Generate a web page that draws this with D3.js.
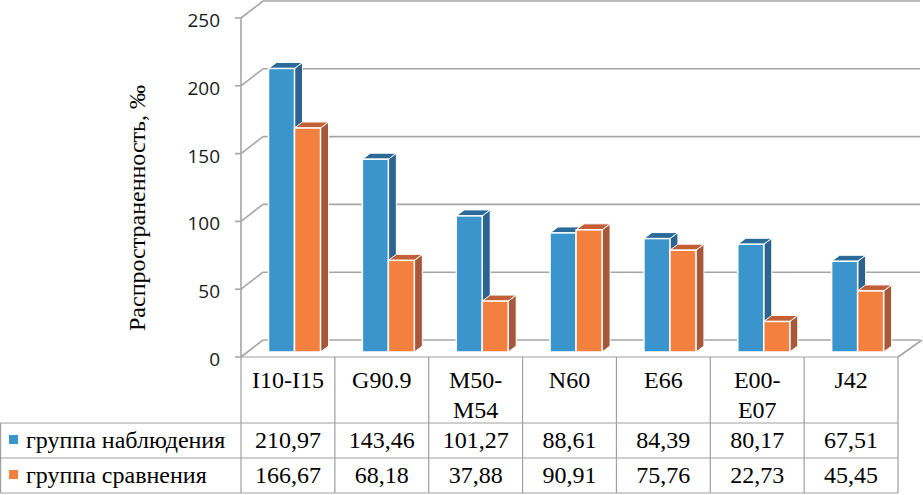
<!DOCTYPE html>
<html>
<head>
<meta charset="utf-8">
<script src="https://cdn.jsdelivr.net/npm/d3@7"></script>
<style>
	body { margin: 0; background: #fff; }
	svg { display: block; }
</style>
</head>
<body>
<svg id="chart"></svg>
<script>
var categories = ["I10-I15", "G90.9", "M50-M54", "N60", "E66", "E00-E07", "J42"];
var catLines = [["I10-I15"], ["G90.9"], ["M50-", "M54"], ["N60"], ["E66"], ["E00-", "E07"], ["J42"]];
var seriesNames = ["группа наблюдения", "группа сравнения"];
var observed = [210.97, 143.46, 101.27, 88.61, 84.39, 80.17, 67.51];
var compared = [166.67, 68.18, 37.88, 90.91, 75.76, 22.73, 45.45];
var observedLabels = ["210,97", "143,46", "101,27", "88,61", "84,39", "80,17", "67,51"];
var comparedLabels = ["166,67", "68,18", "37,88", "90,91", "75,76", "22,73", "45,45"];
var yTicks = [0, 50, 100, 150, 200, 250];

var colors = {
	"blue" : {front: "#3a95cd", side: "#2d6391", top: "#2c6a99"},
	"orange" : {front: "#f4803f", side: "#a8583a", top: "#c25f36"}
};

var W = 923, H = 495;
var svg = d3.select("#chart").attr("width", W).attr("height", H);

// front plane and wall depth
var x0 = 241, x1 = 898;
var wallDx = 22, wallDy = -17;
var gridColor = "#a6a6a6";

var x = d3.scaleBand().domain(categories).range([x0, x1]).padding(0);
var y = d3.scaleLinear().domain([0, 250]).range([357, 18]);
// bars sit a bit into the depth
var yBar = d3.scaleLinear().domain([0, 250]).range([352, 16]);
var barDx = 8, barDy = -6;

// back wall gridlines and diagonals
yTicks.forEach(function(t) {
	svg.append("line")
		.attr("x1", x0 + wallDx).attr("x2", x1 + wallDx)
		.attr("y1", y(t) + wallDy).attr("y2", y(t) + wallDy)
		.attr("stroke", gridColor).attr("stroke-width", 1.6);
	svg.append("line")
		.attr("x1", x0).attr("x2", x0 + wallDx)
		.attr("y1", y(t)).attr("y2", y(t) + wallDy)
		.attr("stroke", gridColor).attr("stroke-width", 1.6);
	svg.append("line")
		.attr("x1", x0 - 6).attr("x2", x0)
		.attr("y1", y(t)).attr("y2", y(t))
		.attr("stroke", gridColor).attr("stroke-width", 1.6);
	svg.append("text")
		.attr("x", 220).attr("y", y(t) + 2)
		.attr("text-anchor", "end")
		.attr("dominant-baseline", "central")
		.attr("font-family", "'Open Sans', sans-serif")
		.attr("font-size", "19px")
		.attr("fill", "#1a1a1a")
		.text(t);
});

// floor right edge
svg.append("line")
	.attr("x1", x1).attr("y1", y(0))
	.attr("x2", x1 + wallDx + 2).attr("y2", y(0) + wallDy)
	.attr("stroke", gridColor).attr("stroke-width", 1.6);

// vertical axis
svg.append("line")
	.attr("x1", x0).attr("x2", x0)
	.attr("y1", y(250)).attr("y2", y(0))
	.attr("stroke", gridColor).attr("stroke-width", 1.6);

// 3d bars
function drawBar(cx, w, v, c) {
	var yt = yBar(v), yb = yBar(0);
	var g = svg.append("g");
	g.append("polygon")
		.attr("points", [[cx + w, yt], [cx + w + barDx, yt + barDy], [cx + w + barDx, yb + barDy], [cx + w, yb]].join(" "))
		.attr("fill", c.side).attr("stroke", "#fff").attr("stroke-width", 1).attr("stroke-linejoin", "round");
	g.append("polygon")
		.attr("points", [[cx, yt], [cx + w, yt], [cx + w + barDx, yt + barDy], [cx + barDx, yt + barDy]].join(" "))
		.attr("fill", c.top).attr("stroke", "#fff").attr("stroke-width", 1).attr("stroke-linejoin", "round");
	g.append("rect")
		.attr("x", cx).attr("y", yt)
		.attr("width", w).attr("height", yb - yt)
		.attr("fill", c.front).attr("stroke", "#fff").attr("stroke-width", 1.5);
}

categories.forEach(function(cat, i) {
	var bx = x(cat);
	drawBar(bx + 27.5, 26, observed[i], colors.blue);
	drawBar(bx + 53.5, 26, compared[i], colors.orange);
});

// axis title
svg.append("text")
	.attr("transform", "translate(145," + 208 + ") rotate(-90)")
	.attr("text-anchor", "middle")
	.attr("font-family", "'Liberation Serif', 'Times New Roman', serif")
	.attr("font-size", "24px")
	.attr("fill", "#000")
	.text("Распространенность, ‰");

// data table
var tableColor = "#9f9f9f";
var rowTop = 357, rowHead = 423, row1 = 458, row2 = 493;

function hline(xa, xb, yy) {
	svg.append("line")
		.attr("x1", xa).attr("x2", xb).attr("y1", yy).attr("y2", yy)
		.attr("stroke", tableColor).attr("stroke-width", 1.2);
}
function vline(xx, ya, yb) {
	svg.append("line")
		.attr("x1", xx).attr("x2", xx).attr("y1", ya).attr("y2", yb)
		.attr("stroke", tableColor).attr("stroke-width", 1.2);
}

hline(x0, x1, rowTop);
hline(0.5, x1, rowHead);
hline(0.5, x1, row1);
hline(0.5, x1, row2);
vline(0.6, rowHead, row2);
vline(x0, rowTop, row2);
categories.forEach(function(cat) {
	vline(x(cat) + x.bandwidth(), rowTop, row2);
});

var serif = "'Liberation Serif', 'Times New Roman', serif";

catLines.forEach(function(lines, i) {
	var cx = x(categories[i]) + x.bandwidth() / 2;
	lines.forEach(function(l, j) {
		svg.append("text")
			.attr("x", cx).attr("y", 388 + j * 30)
			.attr("text-anchor", "middle")
			.attr("font-family", serif)
			.attr("font-size", "24px")
			.attr("fill", "#000")
			.text(l);
	});
});

function valueRow(labels, yy) {
	labels.forEach(function(l, i) {
		svg.append("text")
			.attr("x", x(categories[i]) + x.bandwidth() / 2).attr("y", yy)
			.attr("text-anchor", "middle")
			.attr("font-family", serif)
			.attr("font-size", "24px")
			.attr("fill", "#000")
			.text(l);
	});
}
valueRow(observedLabels, 448);
valueRow(comparedLabels, 483);

// legend keys in the table
[[seriesNames[0], colors.blue.front, 435, 448], [seriesNames[1], colors.orange.front, 470, 483]].forEach(function(d) {
	svg.append("rect")
		.attr("x", 9).attr("y", d[2])
		.attr("width", 9).attr("height", 9)
		.attr("fill", d[1]);
	svg.append("text")
		.attr("x", 26).attr("y", d[3])
		.attr("font-family", serif)
		.attr("font-size", "24px")
		.attr("fill", "#000")
		.text(d[0]);
});
</script>
</body>
</html>
